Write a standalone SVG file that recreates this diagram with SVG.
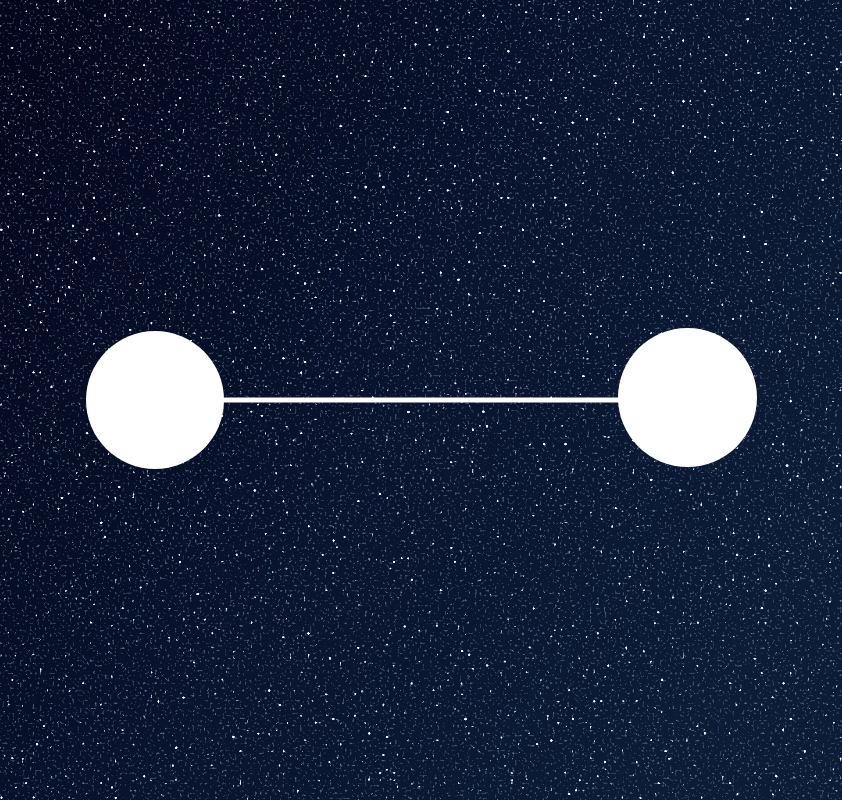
<svg xmlns="http://www.w3.org/2000/svg" width="842" height="800" viewBox="0 0 842 800">
  <defs>
    <linearGradient id="sky" x1="0" y1="0" x2="1" y2="0.6">
      <stop offset="0" stop-color="#02061a"/>
      <stop offset="0.5" stop-color="#08122c"/>
      <stop offset="1" stop-color="#0c1c36"/>
    </linearGradient>
    <filter id="stars" x="0" y="0" width="100%" height="100%" filterUnits="userSpaceOnUse">
      <feTurbulence type="fractalNoise" baseFrequency="0.28" numOctaves="1" seed="7" result="n"/>
      <feColorMatrix in="n" type="matrix" values="0 0 0 0 0.85  0 0 0 0 0.92  0 0 0 0 1  14 0 0 0 -9.75" result="s"/>
      <feGaussianBlur in="s" stdDeviation="0.6"/>
    </filter>
    <filter id="grain" x="0" y="0" width="100%" height="100%" filterUnits="userSpaceOnUse">
      <feTurbulence type="fractalNoise" baseFrequency="0.4" numOctaves="1" seed="3" result="n"/>
      <feColorMatrix in="n" type="matrix" values="0 0 0 0 0.3  0 0 0 0 0.45  0 0 0 0 0.7  5 0 0 0 -3.0" result="g"/>
      <feGaussianBlur in="g" stdDeviation="0.5"/>
    </filter>
    <style>
      .node { fill: #ffffff; }
      .edge { stroke: #ffffff; stroke-width: 5; fill: none; }
    </style>
  </defs>
  <g id="background">
    <rect x="0" y="0" width="842" height="800" fill="url(#sky)"/>
    <rect x="0" y="0" width="842" height="800" fill="#000" filter="url(#grain)" opacity="0.55"/>
    <rect x="0" y="0" width="842" height="800" fill="#000" filter="url(#stars)"/>
  </g>
  <g id="connectors">
    <line class="edge" x1="222" y1="400" x2="620" y2="400"/>
  </g>
  <g id="node-left">
    <circle class="node" cx="155" cy="400" r="69"/>
  </g>
  <g id="node-right">
    <circle class="node" cx="687.5" cy="397.5" r="69.5"/>
  </g>
</svg>
